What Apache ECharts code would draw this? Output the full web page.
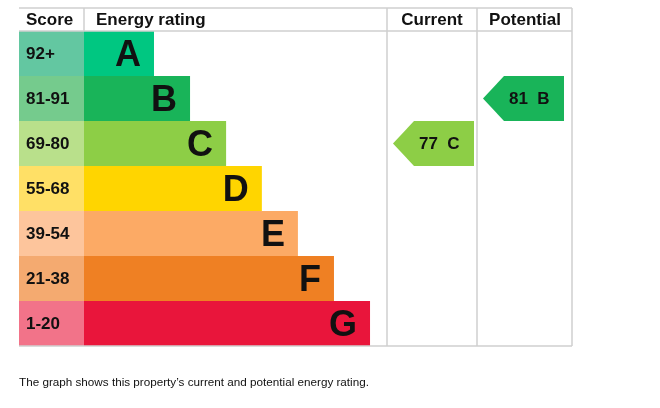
<!DOCTYPE html>
<html><head><meta charset="utf-8">
<script src="https://cdn.jsdelivr.net/npm/echarts@6/dist/echarts.min.js"></script>
<style>html,body{margin:0;padding:0;background:#fff}#c{width:660px;height:408px}</style>
</head><body><div id="c"></div>
<script>
const bands = ['A','B','C','D','E','F','G'];
const scoreRanges = ['92+','81-91','69-80','55-68','39-54','21-38','1-20'];
const barLength = [23.1, 35.0, 46.9, 58.7, 70.6, 82.5, 94.4]; // % of energy column
const bandColor = ['#00c781','#19b459','#8dce46','#ffd500','#fcaa65','#ef8023','#e9153b'];
const scoreColor = ['#63c7a1','#75cb8d','#b9e08b','#ffe066','#fdc59c','#f4aa70','#f27389'];
const headers = ['Score','Energy rating','Current','Potential'];
const currentRating = {score: 77, band: 'C'};
const potentialRating = {score: 81, band: 'B'};
const footer = "The graph shows this property\u2019s current and potential energy rating.";

const FONT = 'Arial, "Liberation Sans", sans-serif';
const chart = echarts.init(document.getElementById('c'), null, {renderer:'canvas'});

const top0 = 31, h = 315;
const cols = {score:[19,65], energy:[84,303], current:[387,90], potential:[477,95]};
const gridKeys = ['score','energy','current','potential'];
const grids = gridKeys.map(k => ({left: cols[k][0], top: top0, width: cols[k][1], height: h, containLabel:false}));
const xAxes = gridKeys.map((k,i) => ({type:'value', gridIndex:i, min:0, max: k==='energy'?100:1, show:false}));
const yAxes = gridKeys.map((k,i) => ({type:'category', gridIndex:i, data:bands, inverse:true, show:false}));

function arrowSeries(idx, rating) {
  const bi = bands.indexOf(rating.band);
  return {
    type:'custom', xAxisIndex:idx, yAxisIndex:idx,
    data:[[0, bi, rating.score]],
    renderItem(params, api) {
      const cs = params.coordSys;
      const yc = api.coord([0, api.value(1)])[1];
      const hh = api.size([0, 1])[1];
      const x0 = cs.x + 6, x1 = cs.x + 87, tip = 21;
      const y0 = yc - hh/2, y1 = yc + hh/2;
      const col = bandColor[bi];
      return {type:'group', children:[
        {type:'polygon', shape:{points:[[x0,yc],[x0+tip,y0],[x1,y0],[x1,y1],[x0+tip,y1]]}, style:{fill:col}},
        {type:'text', style:{text: api.value(2) + '  ' + rating.band, x: x0+tip+5, y: yc+1, verticalAlign:'middle', align:'left', font:'bold 17px ' + FONT, fill:'#111'}}
      ]};
    }
  };
}

const lineStyle = {stroke:'#cfcfcf', lineWidth:1.5};
const L = (x1,y1,x2,y2) => ({type:'line', shape:{x1,y1,x2,y2}, style:lineStyle, z:10});
const T = (text,x,y,align,size,weight) => ({type:'text', x, y, style:{text, font:(weight||'') + ' ' + size + 'px ' + FONT, fill:'#111', align, verticalAlign:'middle'}});

chart.setOption({
  animation:false,
  grid: grids, xAxis: xAxes, yAxis: yAxes,
  series: [
    {type:'bar', xAxisIndex:0, yAxisIndex:0, barCategoryGap:0, silent:true,
     data: scoreRanges.map((s,i)=>({value:1, itemStyle:{color:scoreColor[i]}, label:{formatter:s}})),
     label:{show:true, position:'insideLeft', distance:7, offset:[0,1], fontFamily:FONT, fontWeight:'bold', fontSize:17, color:'#111'}},
    {type:'bar', xAxisIndex:1, yAxisIndex:1, barCategoryGap:0, silent:true,
     data: barLength.map((v,i)=>({value:v, itemStyle:{color:bandColor[i]}})),
     label:{show:true, position:'insideRight', distance:13, offset:[0,3], formatter:(p)=>bands[p.dataIndex], fontFamily:FONT, fontWeight:'bold', fontSize:36, color:'#111'}},
    arrowSeries(2, currentRating),
    arrowSeries(3, potentialRating)
  ],
  graphic: [
    L(19,8,572,8), L(19,31,572,31), L(19,346,572,346),
    L(84,8,84,31), L(387,8,387,346), L(477,8,477,346), L(572,8,572,346),
    T(headers[0],26,20,'left',17,'bold'),
    T(headers[1],96,20,'left',17,'bold'),
    T(headers[2],432,20,'center',17,'bold'),
    T(headers[3],525,20,'center',17,'bold'),
    T(footer,19,383,'left',11.7,'')
  ]
});
</script></body></html>
